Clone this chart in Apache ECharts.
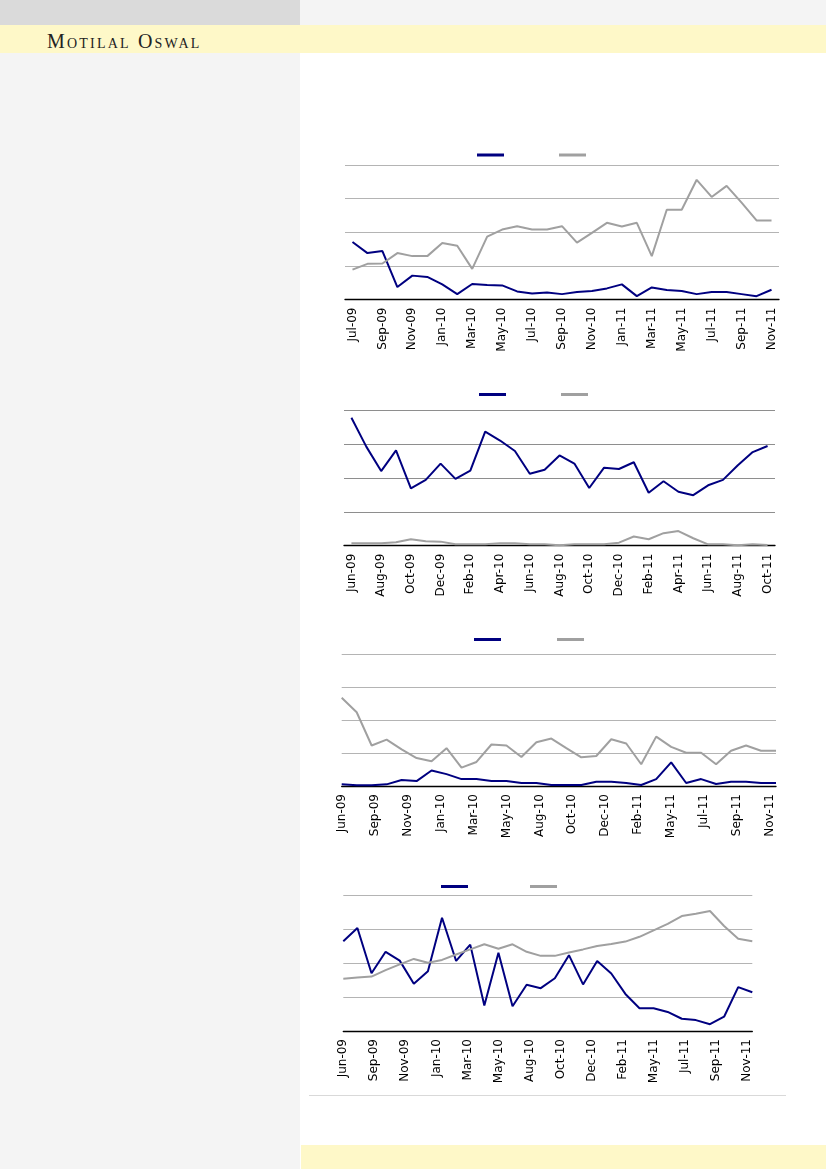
<!DOCTYPE html>
<html>
<head>
<meta charset="utf-8">
<script src="https://cdn.jsdelivr.net/npm/echarts@6/dist/echarts.min.js"></script>
<style>
  html, body { margin:0; padding:0; width:826px; height:1169px; overflow:hidden; background:#ffffff; }
  .bg { position:absolute; }
  #chart { position:absolute; left:0; top:0; width:826px; height:1169px; }
  #logo { position:absolute; left:47px; top:31px; font-family:"Liberation Serif","DejaVu Serif",serif; font-variant:small-caps; font-size:20px; letter-spacing:2.2px; color:#222; line-height:20px; }
</style>
</head>
<body>
<div class="bg" style="left:0;top:0;width:300px;height:25px;background:#dadada"></div>
<div class="bg" style="left:300px;top:0;width:526px;height:25px;background:#f4f4f4"></div>
<div class="bg" style="left:0;top:25px;width:826px;height:28px;background:#fef8c8"></div>
<div class="bg" style="left:0;top:53px;width:300px;height:1116px;background:#f4f4f4"></div>
<div class="bg" style="left:301px;top:1145px;width:525px;height:24px;background:#fef8c8"></div>
<div class="bg" style="left:309px;top:1095px;width:477px;height:1px;background:#d9d9d9"></div>
<div id="logo">Motilal Oswal</div>
<div id="chart"></div>
<script>
// ---------- Data ----------
const c1Months = ['Jul-09','Aug-09','Sep-09','Oct-09','Nov-09','Dec-09','Jan-10','Feb-10','Mar-10','Apr-10','May-10','Jun-10','Jul-10','Aug-10','Sep-10','Oct-10','Nov-10','Dec-10','Jan-11','Feb-11','Mar-11','Apr-11','May-11','Jun-11','Jul-11','Aug-11','Sep-11','Oct-11','Nov-11'];
const c1Blue = [17.1,13.8,14.4,3.7,7.1,6.7,4.5,1.6,4.6,4.3,4.2,2.4,1.8,2.1,1.6,2.2,2.5,3.3,4.5,1.0,3.6,2.8,2.5,1.6,2.2,2.2,1.6,1.0,2.9];
const c1Gray = [8.9,10.6,10.7,13.8,12.9,12.9,16.8,16.0,9.1,18.7,20.8,21.8,20.8,20.8,21.8,16.9,19.8,22.8,21.7,22.8,12.9,26.7,26.7,35.6,30.5,33.8,28.8,23.5,23.5];

const c2Months = ['Jun-09','Jul-09','Aug-09','Sep-09','Oct-09','Nov-09','Dec-09','Jan-10','Feb-10','Mar-10','Apr-10','May-10','Jun-10','Jul-10','Aug-10','Sep-10','Oct-10','Nov-10','Dec-10','Jan-11','Feb-11','Mar-11','Apr-11','May-11','Jun-11','Jul-11','Aug-11','Sep-11','Oct-11'];
const c2Blue = [37.7,29.2,22.0,28.1,16.9,19.4,24.2,19.7,22.1,33.6,31.0,27.9,21.2,22.4,26.6,24.2,17.0,23.0,22.6,24.6,15.6,19.0,15.9,14.9,17.8,19.4,23.7,27.6,29.4];
const c2Gray = [0.7,0.7,0.7,1.0,1.9,1.3,1.2,0.4,0.4,0.4,0.7,0.7,0.4,0.4,0.1,0.4,0.4,0.4,0.9,2.7,1.9,3.7,4.3,2.2,0.4,0.4,0.1,0.4,0.2];

const c34Months = ['Jun-09','Jul-09','Aug-09','Sep-09','Oct-09','Nov-09','Dec-09','Jan-10','Feb-10','Mar-10','Apr-10','May-10','Jun-10','Jul-10','Aug-10','Sep-10','Oct-10','Nov-10','Dec-10','Jan-11','Feb-11','Mar-11','Apr-11','May-11','Jun-11','Jul-11','Aug-11','Sep-11','Oct-11','Nov-11'];
const c34TickLabels = ['Jun-09','Sep-09','Nov-09','Jan-10','Mar-10','May-10','Aug-10','Oct-10','Dec-10','Feb-11','May-11','Jul-11','Sep-11','Nov-11'];

const c3Blue = [0.5,0.2,0.2,0.5,1.8,1.5,4.7,3.6,2.1,2.1,1.5,1.5,0.9,0.9,0.3,0.3,0.3,1.3,1.3,0.9,0.3,2.1,7.2,0.9,2.1,0.6,1.3,1.3,0.9,0.9];
const c3Gray = [26.8,22.4,12.3,14.1,11.1,8.5,7.5,11.5,5.6,7.3,12.6,12.3,8.8,13.3,14.4,11.5,8.7,9.1,14.2,12.9,6.6,15.0,11.9,10.1,10.1,6.6,10.7,12.3,10.7,10.7];

const c4Blue = [26.4,30.3,17.0,23.3,20.7,13.9,17.6,33.3,20.6,25.4,7.5,23.0,7.3,13.6,12.6,15.5,22.3,13.7,20.6,16.9,10.9,6.7,6.7,5.6,3.6,3.2,2.0,4.2,12.9,11.4];
const c4Gray = [15.4,15.7,16.0,17.9,19.6,21.2,20.1,20.9,22.5,24.0,25.5,24.2,25.5,23.3,22.1,22.1,23.1,24.0,25.0,25.6,26.3,27.7,29.6,31.5,33.8,34.5,35.3,30.9,27.1,26.4];

// ---------- Styles ----------
const BLUE = '#000080';
const GRAY = '#a0a0a0';
const LABEL_FONT = { fontFamily: 'DejaVu Sans', fontSize: 12, color: '#000' };
const TICK_STEP = 2.2; // label spacing (months) of the date-style axis in charts 3 and 4

const grids = [
  { left: 345, top: 165, width: 434, height: 134.5 },
  { left: 344, top: 410, width: 431, height: 135.7 },
  { left: 341.7, top: 654.3, width: 434.3, height: 131.7 },
  { left: 343.3, top: 895, width: 409, height: 136 }
];
const gridColors = ['#b4b4b4', '#8e8e8e', '#b4b4b4', '#b4b4b4'];
const legends = [
  { left: 477, top: 153.5, gap: 55 },
  { left: 479, top: 393, gap: 55 },
  { left: 474, top: 638, gap: 56 },
  { left: 441, top: 885, gap: 62 }
];

const pair = arr => arr.map((v, i) => [i, v]);

const xAxes = [];
const yAxes = [];
grids.forEach((g, k) => {
  yAxes.push({
    type: 'value', gridIndex: k, min: 0, max: 40, interval: 10,
    axisLabel: { show: false }, axisLine: { show: false }, axisTick: { show: false },
    splitLine: { show: true, lineStyle: { color: gridColors[k], width: 1 } }
  });
});
[c1Months, c2Months].forEach((m, k) => {
  xAxes.push({
    type: 'category', gridIndex: k, data: m, boundaryGap: true,
    axisLine: { lineStyle: { color: '#000', width: 1.3 } },
    axisTick: { show: false },
    axisLabel: Object.assign({ rotate: 90, interval: 1, margin: 8 }, LABEL_FONT),
    splitLine: { show: false }
  });
});
[2, 3].forEach(k => {
  xAxes.push({
    type: 'value', gridIndex: k, min: 0, max: c34Months.length - 1,
    axisLine: { show: true, onZero: false, lineStyle: { color: '#000', width: 1.3 } },
    axisTick: { show: false },
    splitLine: { show: false },
    axisLabel: Object.assign({
      rotate: 90, margin: 8,
      customValues: c34TickLabels.map((_, i) => i * TICK_STEP),
      formatter: v => c34TickLabels[Math.round(v / TICK_STEP)] || ''
    }, LABEL_FONT)
  });
});

function line(name, k, data, color) {
  return {
    name, type: 'line', xAxisIndex: k, yAxisIndex: k, data,
    symbol: 'none', smooth: false,
    lineStyle: { color, width: 2 }, itemStyle: { color },
    emphasis: { disabled: true }
  };
}

const series = [
  line('Chart 1 A', 0, c1Blue, BLUE), line('Chart 1 B', 0, c1Gray, GRAY),
  line('Chart 2 A', 1, c2Blue, BLUE), line('Chart 2 B', 1, c2Gray, GRAY),
  line('Chart 3 A', 2, pair(c3Blue), BLUE), line('Chart 3 B', 2, pair(c3Gray), GRAY),
  line('Chart 4 A', 3, pair(c4Blue), BLUE), line('Chart 4 B', 3, pair(c4Gray), GRAY)
];

const legend = legends.map((l, k) => ({
  data: ['Chart ' + (k + 1) + ' A', 'Chart ' + (k + 1) + ' B'],
  left: l.left, top: l.top, padding: 0, itemGap: l.gap,
  icon: 'rect', itemWidth: 27, itemHeight: 3,
  formatter: () => '', selectedMode: false,
  textStyle: { fontSize: 1 }
}));

const chart = echarts.init(document.getElementById('chart'), null, { renderer: 'canvas' });
chart.setOption({
  animation: false,
  backgroundColor: 'transparent',
  grid: grids.map(g => Object.assign({ containLabel: false }, g)),
  xAxis: xAxes,
  yAxis: yAxes,
  legend,
  series
});
</script>
</body>
</html>
